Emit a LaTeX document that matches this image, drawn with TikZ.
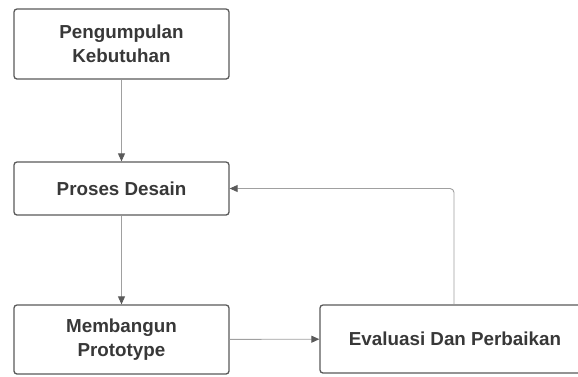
\documentclass[tikz,border=0pt]{standalone}
\usepackage{fontspec}
\setmainfont{Liberation Sans}
\usepackage{tikz}
\usetikzlibrary{arrows.meta}
\definecolor{boxline}{HTML}{5A5A5A}
\definecolor{arrline}{HTML}{A0A0A0}
\definecolor{txt}{HTML}{383838}

\begin{document}
\begin{tikzpicture}[x=1pt, y=-1pt,
    stepbox/.style={draw=boxline, line width=1.3pt, rounded corners=3pt, fill=white, align=center,
        text=txt, font=\fontsize{18.8}{23.5}\selectfont\bfseries, inner sep=0pt},
    flow/.style={draw=arrline, line width=0.9pt, -{Triangle[length=8pt, width=7pt, color=boxline]}}]
    \useasboundingbox (0,0) rectangle (578,376);
    \fill[white] (0,0) rectangle (578,376);
    \node[stepbox, minimum width=215pt, minimum height=70pt] (kebutuhan) at (121.5, 44) {Pengumpulan\\Kebutuhan};
    \node[stepbox, minimum width=215pt, minimum height=53pt] (desain) at (121.5, 188.5) {Proses Desain};
    \node[stepbox, minimum width=215pt, minimum height=69pt] (prototype) at (121.5, 339.5) {Membangun\\Prototype};
    \node[stepbox, minimum width=270pt, minimum height=68pt] (evaluasi) at (455, 339) {Evaluasi Dan Perbaikan};
    \coordinate (balik) at (454, 188.5);
    \draw[flow] (kebutuhan) -- (desain);
    \draw[flow] (desain) -- (prototype);
    \draw[flow] (prototype) -- (evaluasi);
    \draw[flow, rounded corners=4pt] (evaluasi.north -| balik) -- (balik) -- (desain.east);
\end{tikzpicture}
\end{document}
